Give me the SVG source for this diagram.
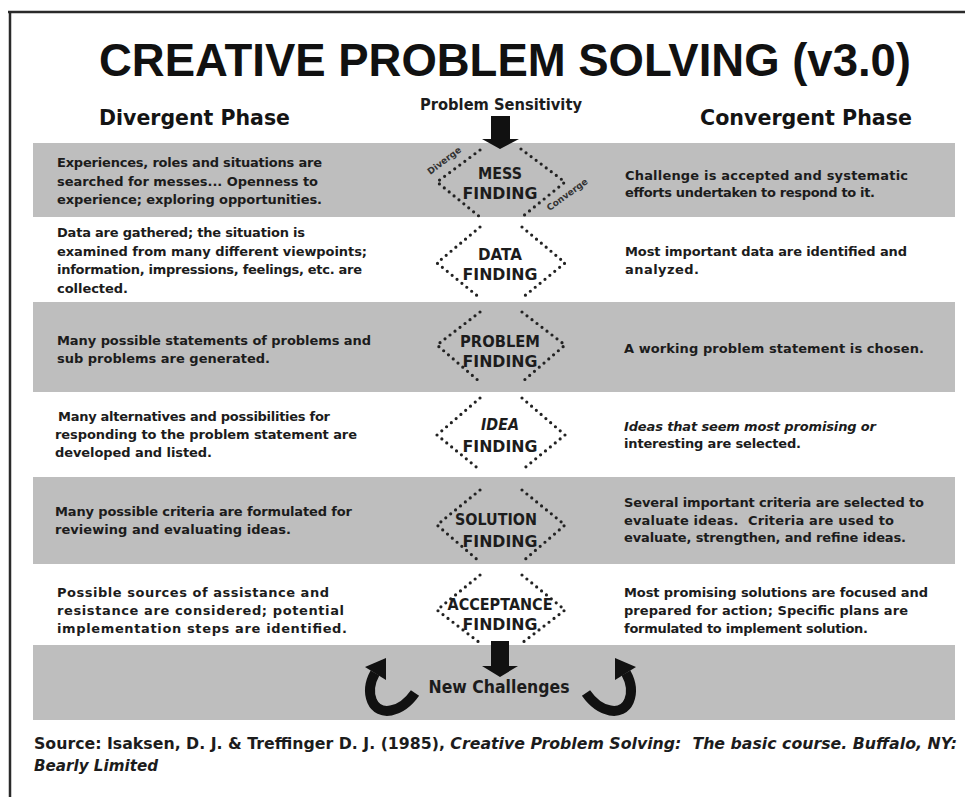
<svg xmlns="http://www.w3.org/2000/svg" width="965" height="797" viewBox="0 0 965 797">
<defs>
<style>
.band{fill:#bebebe}
.t{font-family:"DejaVu Sans","Liberation Sans",sans-serif;font-weight:bold;font-size:13px;fill:#1c1c1c}
.it{font-style:italic}
.hd{font-family:"DejaVu Sans","Liberation Sans",sans-serif;font-weight:bold;font-size:20.5px;fill:#141414}
.dl{font-family:"DejaVu Sans","Liberation Sans",sans-serif;font-weight:bold;font-size:16.5px;fill:#1c1c1c;text-anchor:middle}
.sm{font-family:"DejaVu Sans","Liberation Sans",sans-serif;font-weight:bold;font-size:9px;fill:#333;text-anchor:middle}
.dot{fill:none;stroke:#222;stroke-width:3.2;stroke-linecap:round;stroke-dasharray:0 6.3}
.pre{white-space:pre}
.src{font-size:15.5px}
</style>
</defs>
<rect width="965" height="797" fill="#ffffff"/>
<!-- frame -->
<line x1="8" y1="12" x2="965" y2="12" stroke="#2a2a2a" stroke-width="2.5"/>
<line x1="10" y1="11" x2="10" y2="797" stroke="#2a2a2a" stroke-width="2.5"/>
<!-- bands -->
<rect class="band" x="33" y="143" width="922" height="74"/>
<rect class="band" x="33" y="302" width="922" height="90"/>
<rect class="band" x="33" y="477" width="922" height="87"/>
<rect class="band" x="33" y="645" width="922" height="75"/>
<!-- title & headers -->
<text x="99" y="76" font-family="'Liberation Sans',Arial,sans-serif" font-weight="bold" font-size="47" fill="#111" textLength="812" lengthAdjust="spacingAndGlyphs">CREATIVE PROBLEM SOLVING (v3.0)</text>
<text class="hd" x="99" y="125" textLength="191" lengthAdjust="spacingAndGlyphs">Divergent Phase</text>
<text class="hd" x="700" y="125" textLength="212" lengthAdjust="spacingAndGlyphs">Convergent Phase</text>
<text class="t" x="501" y="110" style="font-size:16px" text-anchor="middle" textLength="162" lengthAdjust="spacingAndGlyphs">Problem Sensitivity</text>

<!-- connectors -->
<g id="connectors" fill="#111">
  <polygon points="491,116 510,116 510,139 519,139 500,149 482,139 491,139"/>
  <polygon points="491,641 509,641 509,666 518,666 500,677 482,666 491,666"/>
  <g id="loop-left">
    <path d="M415,693 C401,713 379,717 372,701 C368,691 370,682 375,673" fill="none" stroke="#111" stroke-width="10" stroke-linecap="butt"/>
    <polygon points="365,667 386,680 386,658"/>
  </g>
  <g id="loop-right" transform="translate(1001,0) scale(-1,1)">
    <path d="M415,693 C401,713 379,717 372,701 C368,691 370,682 375,673" fill="none" stroke="#111" stroke-width="10" stroke-linecap="butt"/>
    <polygon points="365,667 386,680 386,658"/>
  </g>
</g>

<!-- stage nodes -->
<g id="mess-finding">
  <path class="dot" d="M480,150 L437,182 L480,217"/>
  <path class="dot" d="M521,149 L565,182 L522,217"/>
  <text class="dl" x="500" y="179" textLength="44" lengthAdjust="spacingAndGlyphs">MESS</text>
  <text class="dl" x="500" y="199" textLength="75" lengthAdjust="spacingAndGlyphs">FINDING</text>
  <text class="sm" transform="translate(446,163) rotate(-37)">Diverge</text>
  <text class="sm" transform="translate(569,197) rotate(-36)">Converge</text>
</g>
<g id="data-finding">
  <path class="dot" d="M480,227 L437,263 L480,298"/>
  <path class="dot" d="M522,227 L565,263 L522,298"/>
  <text class="dl" x="500" y="260" textLength="44" lengthAdjust="spacingAndGlyphs">DATA</text>
  <text class="dl" x="500" y="280" textLength="75" lengthAdjust="spacingAndGlyphs">FINDING</text>
</g>
<g id="problem-finding">
  <path class="dot" d="M480,312 L437,345 L480,382"/>
  <path class="dot" d="M522,312 L565,345 L522,382"/>
  <text class="dl" x="500" y="347" textLength="80" lengthAdjust="spacingAndGlyphs">PROBLEM</text>
  <text class="dl" x="500" y="367" textLength="75" lengthAdjust="spacingAndGlyphs">FINDING</text>
</g>
<g id="idea-finding">
  <path class="dot" d="M480,398 L437,435 L480,470"/>
  <path class="dot" d="M522,398 L565,435 L522,470"/>
  <text class="dl it" x="500" y="430" textLength="38" lengthAdjust="spacingAndGlyphs">IDEA</text>
  <text class="dl" x="500" y="452" textLength="75" lengthAdjust="spacingAndGlyphs">FINDING</text>
</g>
<g id="solution-finding">
  <path class="dot" d="M480,490 L437,525 L480,562"/>
  <path class="dot" d="M522,490 L565,525 L522,562"/>
  <text class="dl" x="496" y="525" textLength="82" lengthAdjust="spacingAndGlyphs">SOLUTION</text>
  <text class="dl" x="500" y="547" textLength="75" lengthAdjust="spacingAndGlyphs">FINDING</text>
</g>
<g id="acceptance-finding">
  <path class="dot" d="M480,575 L437,610 L480,643"/>
  <path class="dot" d="M522,575 L565,610 L522,643"/>
  <text class="dl" x="500" y="610" textLength="105" lengthAdjust="spacingAndGlyphs">ACCEPTANCE</text>
  <text class="dl" x="500" y="630" textLength="75" lengthAdjust="spacingAndGlyphs">FINDING</text>
</g>
<g id="new-challenges">
  <text class="dl" x="499" y="693" style="font-size:17px" textLength="141" lengthAdjust="spacingAndGlyphs">New Challenges</text>
</g>

<!-- divergent descriptions -->
<g id="divergent-text">
  <text class="t" x="57" y="167" textLength="265">Experiences, roles and situations are</text>
  <text class="t" x="57" y="185.5" textLength="261">searched for messes... Openness to</text>
  <text class="t" x="57" y="204" textLength="265">experience; exploring opportunities.</text>
  <text class="t" x="57" y="237" textLength="248">Data are gathered; the situation is</text>
  <text class="t" x="57" y="255.5" textLength="310">examined from many different viewpoints;</text>
  <text class="t" x="57" y="274" textLength="305">information, impressions, feelings, etc. are</text>
  <text class="t" x="57" y="292.5" textLength="71">collected.</text>
  <text class="t" x="57" y="345" textLength="314">Many possible statements of problems and</text>
  <text class="t" x="57" y="363" textLength="213">sub problems are generated.</text>
  <text class="t" x="58" y="420.5" textLength="272">Many alternatives and possibilities for</text>
  <text class="t" x="55" y="438.5" textLength="302">responding to the problem statement are</text>
  <text class="t" x="55" y="456.5" textLength="157">developed and listed.</text>
  <text class="t" x="55" y="515.5" textLength="297">Many possible criteria are formulated for</text>
  <text class="t" x="55" y="533.5" textLength="236">reviewing and evaluating ideas.</text>
  <text class="t" x="57" y="597" textLength="272">Possible sources of assistance and</text>
  <text class="t" x="57" y="615" textLength="287">resistance are considered; potential</text>
  <text class="t" x="57" y="632.5" textLength="290">implementation steps are identified.</text>
</g>

<!-- convergent descriptions -->
<g id="convergent-text">
  <text class="t" x="625" y="179.5" textLength="283">Challenge is accepted and systematic</text>
  <text class="t" x="625" y="197" textLength="250">efforts undertaken to respond to it.</text>
  <text class="t" x="625" y="256" textLength="282">Most important data are identified and</text>
  <text class="t" x="625" y="273.5" textLength="74">analyzed.</text>
  <text class="t" x="624" y="353" textLength="300">A working problem statement is chosen.</text>
  <text class="t it" x="624" y="430.5" textLength="252">Ideas that seem most promising or</text>
  <text class="t" x="624" y="448" textLength="177">interesting are selected.</text>
  <text class="t" x="624" y="507" textLength="300">Several important criteria are selected to</text>
  <text class="t pre" x="624" y="524.5" textLength="270">evaluate ideas.  Criteria are used to</text>
  <text class="t" x="624" y="542" textLength="282">evaluate, strengthen, and refine ideas.</text>
  <text class="t" x="624" y="597" textLength="304">Most promising solutions are focused and</text>
  <text class="t" x="624" y="615" textLength="284">prepared for action; Specific plans are</text>
  <text class="t" x="624" y="632.5" textLength="244">formulated to implement solution.</text>
</g>

<!-- source -->
<g id="source">
<text class="t src pre" x="34" y="749" textLength="923" lengthAdjust="spacingAndGlyphs">Source: Isaksen, D. J. &amp; Treffinger D. J. (1985), <tspan font-style="italic">Creative Problem Solving:  The basic course. Buffalo, NY:</tspan></text>
<text class="t src it" x="34" y="771" textLength="124" lengthAdjust="spacingAndGlyphs">Bearly Limited</text>
</g>
</svg>
